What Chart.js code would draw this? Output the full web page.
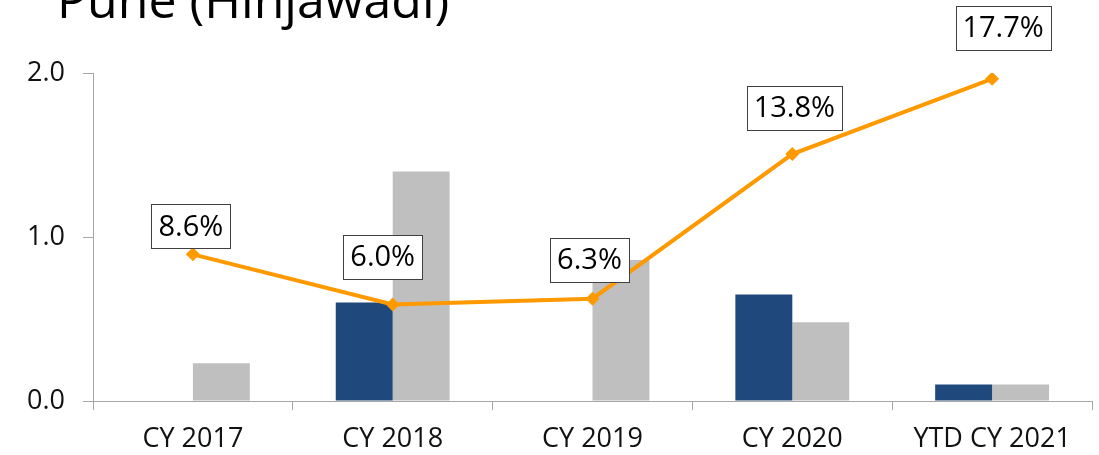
<!DOCTYPE html>
<html><head><meta charset="utf-8">
<script src="https://cdn.jsdelivr.net/npm/chart.js@4"></script>
<style>html,body{margin:0;padding:0;background:#fff}#wrap{width:1099px;height:455px}</style>
</head><body><div id="wrap"><canvas id="c" width="1099" height="455"></canvas></div>
<script>
const titleText = 'Pune (Hinjawadi)';
const categories = ['CY 2017', 'CY 2018', 'CY 2019', 'CY 2020', 'YTD CY 2021'];
const seriesDark = [0, 0.60, 0, 0.65, 0.10];
const seriesGray = [0.23, 1.40, 0.86, 0.48, 0.10];
const seriesRate = [8.6, 6.0, 6.3, 13.8, 17.7];
const rateLabels = ['8.6%', '6.0%', '6.3%', '13.8%', '17.7%'];
const yTicks = [0, 1, 2];

const FONT = '"Open Sans", "Liberation Sans", sans-serif';
const labelOffsets = [[-2, -28], [-10, -48], [-3, -39], [2, -46], [11, -51]];

const titlePlugin = {
  id: 'titleText',
  afterDraw(chart) {
    const ctx = chart.ctx;
    ctx.save();
    ctx.font = '50px ' + FONT;
    ctx.fillStyle = '#000';
    ctx.textBaseline = 'alphabetic';
    ctx.textAlign = 'left';
    ctx.fillText(titleText, 57, 18);
    ctx.restore();
  }
};

const boxLabels = {
  id: 'boxLabels',
  afterDatasetsDraw(chart) {
    const meta = chart.getDatasetMeta(0);
    const ctx = chart.ctx;
    ctx.save();
    ctx.font = '29px ' + FONT;
    ctx.textAlign = 'center';
    ctx.textBaseline = 'middle';
    meta.data.forEach((pt, i) => {
      const cx = pt.x + labelOffsets[i][0];
      const cy = pt.y + labelOffsets[i][1];
      const w = Math.round(ctx.measureText(rateLabels[i]).width + 14);
      const h = 44;
      const x0 = Math.round(cx - w / 2) + 0.5, y0 = Math.round(cy - h / 2) + 0.5;
      ctx.fillStyle = '#fff';
      ctx.fillRect(x0, y0, w, h);
      ctx.strokeStyle = '#404040';
      ctx.lineWidth = 1;
      ctx.strokeRect(x0, y0, w, h);
      ctx.fillStyle = '#000';
      ctx.fillText(rateLabels[i], cx, cy + 1);
    });
    ctx.restore();
  }
};

new Chart(document.getElementById('c'), {
  data: {
    labels: categories,
    datasets: [
      {
        type: 'line', data: seriesRate, yAxisID: 'y2', order: 0,
        borderColor: '#FF9900', backgroundColor: '#FF9900', borderWidth: 4,
        pointStyle: 'rectRot', pointRadius: 7, pointBackgroundColor: '#FF9900',
        pointBorderWidth: 0, tension: 0
      },
      {
        type: 'bar', data: seriesDark, yAxisID: 'y', order: 1,
        backgroundColor: '#1F497D', categoryPercentage: 0.57, barPercentage: 1.0, borderWidth: 0
      },
      {
        type: 'bar', data: seriesGray, yAxisID: 'y', order: 2,
        backgroundColor: '#BFBFBF', categoryPercentage: 0.57, barPercentage: 1.0, borderWidth: 0
      }
    ]
  },
  options: {
    responsive: false,
    animation: false,
    devicePixelRatio: 1,
    layout: { padding: { left: 0, top: 73, right: 6, bottom: 0 } },
    plugins: { legend: { display: false }, tooltip: { enabled: false }, title: { display: false } },
    scales: {
      x: {
        grid: { display: true, offset: true, drawOnChartArea: false, drawTicks: true, tickLength: 9, color: '#A6A6A6' },
        border: { display: true, color: '#A6A6A6' },
        ticks: { font: { family: FONT, size: 27 }, color: '#111', padding: 13, maxRotation: 0 },
        afterFit(s) { s.height = 54; }
      },
      y: {
        min: 0, max: 2,
        grid: { display: true, drawOnChartArea: false, drawTicks: true, tickLength: 10, color: '#A6A6A6' },
        border: { display: true, color: '#A6A6A6' },
        ticks: { font: { family: FONT, size: 27 }, color: '#111', padding: 18, callback: v => Number(v).toFixed(1) },
        afterBuildTicks(s) { s.ticks = yTicks.map(v => ({ value: v })); },
        afterFit(s) { s.width = 93; }
      },
      y2: { display: false, min: 1, max: 18 }
    }
  },
  plugins: [titlePlugin, boxLabels]
});
</script>
</body></html>
